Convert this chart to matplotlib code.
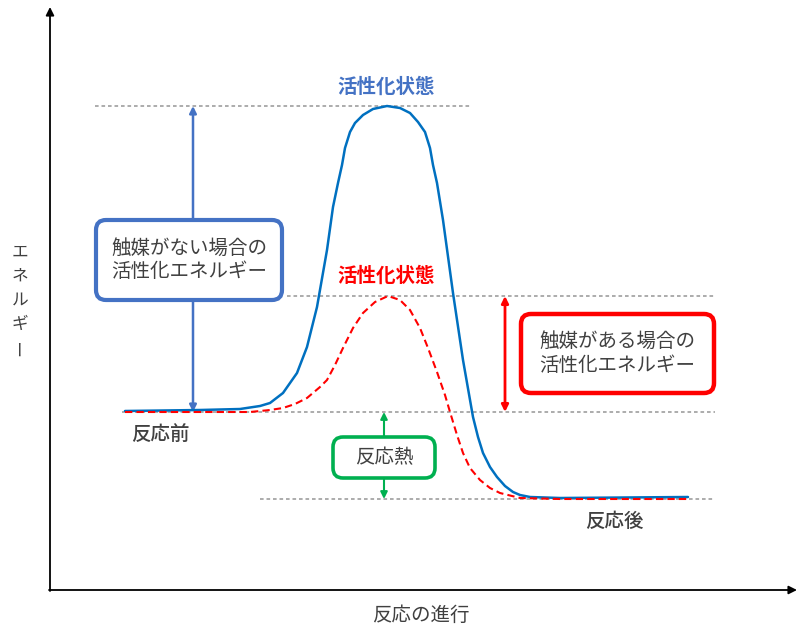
import matplotlib
matplotlib.use("Agg")
import matplotlib.pyplot as plt
from matplotlib.patches import FancyBboxPatch

plt.rcParams['font.family'] = ['Noto Sans CJK JP', 'DejaVu Sans']

# curve points (x = reaction progress, y = screen-style energy, smaller = higher)
blue_x = [125, 200, 240, 260, 270, 283, 297, 307, 317, 327, 333, 338, 342, 345,
          350, 355, 363, 373, 387, 400, 410, 418, 425, 430, 433, 437, 443, 453,
          463, 473, 478, 483, 490, 497, 505, 513, 520, 530, 560, 688]
blue_y = [411, 410, 409, 406, 403, 393, 373, 347, 307, 250, 207, 183, 165, 148,
          132, 123, 115, 109, 106, 108, 113, 122, 132, 148, 165, 183, 220, 293,
          360, 417, 437, 453, 467, 477, 486, 492, 495, 497, 498, 497]

red_x = [125, 200, 250, 270, 283, 295, 307, 320, 327, 335, 343, 353, 363, 375,
         388, 400, 410, 420, 428, 437, 445, 450, 457, 463, 470, 480, 490, 500,
         520, 560, 688]
red_y = [412, 412, 412, 410, 408, 404, 398, 387, 380, 365, 348, 328, 313, 302,
         296, 300, 310, 328, 348, 372, 395, 412, 435, 453, 468, 480, 488, 493,
         498, 499, 499]

# reference levels: (y, x start, x end)
level_ts_uncat = (106, 95, 472)
level_ts_cat = (296, 287, 715)
level_react = (412, 122, 715)
level_prod = (499, 260, 715)

blue_col = '#0070C0'
box_blue = '#4472C4'
red_col = '#FF0000'
green_col = '#00B050'
text_col = '#404040'

fig = plt.figure(figsize=(8, 6.4), dpi=100)
ax = fig.add_axes([0, 0, 1, 1])
ax.set_xlim(0, 800)
ax.set_ylim(640, 0)
ax.axis('off')

# axes arrows
ax.annotate('', xy=(50, 7), xytext=(50, 591),
            arrowprops=dict(arrowstyle='-|>', color='black', lw=1.3,
                            mutation_scale=12, shrinkA=0, shrinkB=0))
ax.annotate('', xy=(797, 590), xytext=(49, 590),
            arrowprops=dict(arrowstyle='-|>', color='black', lw=1.3,
                            mutation_scale=12, shrinkA=0, shrinkB=0))

# dotted levels
for lv in [level_ts_uncat, level_ts_cat, level_react, level_prod]:
    ax.plot([lv[1], lv[2]], [lv[0], lv[0]], color='#A6A6A6', lw=1.3,
            linestyle=(0, (2, 1.6)), zorder=1)

# curves
ax.plot(blue_x, blue_y, color=blue_col, lw=1.8, zorder=3,
        solid_joinstyle='round', solid_capstyle='round')
ax.plot(red_x, red_y, color=red_col, lw=1.5, linestyle=(0, (3.5, 2)),
        zorder=4)

# double arrows
def darrow(x, y0, y1, col, lw):
    ax.annotate('', xy=(x, y0), xytext=(x, y1),
                arrowprops=dict(arrowstyle='<|-|>', color=col, lw=lw,
                                mutation_scale=10, shrinkA=0, shrinkB=0),
                zorder=2)

darrow(193, level_ts_uncat[0], level_react[0], box_blue, 1.8)
darrow(505, level_ts_cat[0], level_react[0], red_col, 2.0)
darrow(384, level_react[0], level_prod[0], green_col, 1.5)

# boxes
def box(x0, y0, x1, y1, col, lw, lines, fs):
    p = FancyBboxPatch((x0, y0), x1 - x0, y1 - y0,
                       boxstyle='round,pad=0,rounding_size=10',
                       fc='white', ec=col, lw=lw, zorder=5)
    ax.add_patch(p)
    ax.text((x0 + x1) / 2, (y0 + y1) / 2, lines, ha='center', va='center',
            fontsize=fs, color=text_col, linespacing=1.15, zorder=6)

box(96, 220, 282, 300, box_blue, 3.0, '触媒がない場合の\n活性化エネルギー', 14)
box(521, 314, 714, 393, red_col, 3.2, '触媒がある場合の\n活性化エネルギー', 14)
box(333, 437, 435, 478, green_col, 2.6, '反応熱', 14)

# labels
ax.text(386, 87, '活性化状態', ha='center', va='center', fontsize=14,
        color=box_blue, fontweight='bold')
ax.text(386, 276, '活性化状態', ha='center', va='center', fontsize=14,
        color=red_col, fontweight='bold')
ax.text(160, 434, '反応前', ha='center', va='center', fontsize=14,
        color=text_col, fontweight='medium')
ax.text(614, 521, '反応後', ha='center', va='center', fontsize=14,
        color=text_col, fontweight='medium')
ax.text(421, 615, '反応の進行', ha='center', va='center', fontsize=14,
        color=text_col)

# vertical y label
ylabel_chars = ['エ', 'ネ', 'ル', 'ギ', 'ー']
for i, ch in enumerate(ylabel_chars):
    ax.text(20, 252 + i * 24, ch, ha='center', va='center', fontsize=12,
            color=text_col, rotation=90 if ch == 'ー' else 0)

fig.savefig('out.png', dpi=100)
